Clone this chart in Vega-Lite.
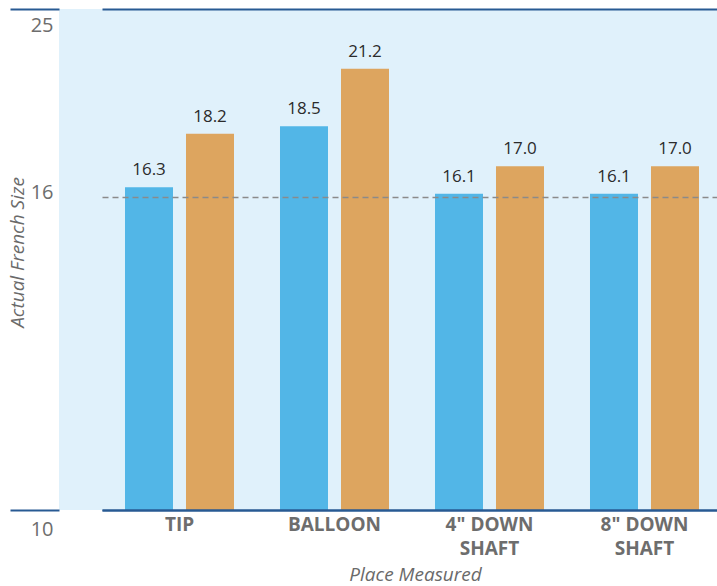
{
  "$schema": "https://vega.github.io/schema/vega-lite/v6.json",
  "width": 658,
  "height": 501,
  "autosize": "none",
  "padding": {"left": 59, "top": 9, "right": 0, "bottom": 76},
  "background": "#ffffff",
  "view": {"fill": "#e0f1fb", "stroke": null},
  "config": {"font": "Open Sans"},
  "data": {
    "values": [
      {"place": "TIP", "series": "Series 1", "value": 16.3},
      {"place": "TIP", "series": "Series 2", "value": 18.2},
      {"place": "BALLOON", "series": "Series 1", "value": 18.5},
      {"place": "BALLOON", "series": "Series 2", "value": 21.2},
      {"place": "4\" DOWN SHAFT", "series": "Series 1", "value": 16.1},
      {"place": "4\" DOWN SHAFT", "series": "Series 2", "value": 17.0},
      {"place": "8\" DOWN SHAFT", "series": "Series 1", "value": 16.1},
      {"place": "8\" DOWN SHAFT", "series": "Series 2", "value": 17.0}
    ]
  },
  "encoding": {
    "x": {
      "field": "place",
      "type": "nominal",
      "sort": null,
      "scale": {"type": "band", "range": [43, 663], "paddingInner": 0, "paddingOuter": 0},
      "axis": {
        "title": "Place Measured",
        "titleFont": "Open Sans",
        "titleFontStyle": "italic",
        "titleFontWeight": "normal",
        "titleFontSize": 19,
        "titleColor": "#6a6a6a",
        "titleX": 356,
        "titleY": 64,
        "titleAlign": "center",
        "titleBaseline": "middle",
        "labelAngle": 0,
        "labelFont": "Open Sans",
        "labelFontWeight": "bold",
        "labelFontSize": 19,
        "labelColor": "#6d6d6d",
        "labelPadding": 5,
        "labelLineHeight": 24,
        "labelExpr": "datum.label == 'TIP' || datum.label == 'BALLOON' ? datum.label : [replace(datum.label, ' SHAFT', ''), 'SHAFT']",
        "ticks": false,
        "domain": true,
        "domainColor": "#285a93",
        "domainWidth": 2,
        "grid": false,
        "zindex": 1
      }
    },
    "xOffset": {
      "field": "series",
      "type": "nominal",
      "scale": {"paddingInner": 0.213, "paddingOuter": 0.377}
    },
    "y": {
      "field": "value",
      "type": "quantitative",
      "scale": {"type": "pow", "exponent": -1, "domain": [10, 25], "zero": false, "nice": false},
      "axis": {
        "title": "Actual French Size",
        "titleFont": "Open Sans",
        "titleFontStyle": "italic",
        "titleFontWeight": "normal",
        "titleFontSize": 19,
        "titleColor": "#6a6a6a",
        "titleAngle": 270,
        "titleX": -42,
        "titleY": 243,
        "titleAlign": "center",
        "titleBaseline": "middle",
        "values": [10, 16, 25],
        "domain": false,
        "ticks": true,
        "tickSize": 49,
        "tickWidth": 2,
        "tickColor": {"condition": {"test": "datum.value == 16", "value": "transparent"}, "value": "#285a93"},
        "grid": true,
        "gridColor": {"condition": {"test": "datum.value == 16", "value": "#8a8a8a"}, "value": "#285a93"},
        "gridDash": {"condition": {"test": "datum.value == 16", "value": [6, 4]}, "value": []},
        "gridWidth": {"condition": {"test": "datum.value == 16", "value": 1.5}, "value": 2},
        "labelFont": "Open Sans",
        "labelFontSize": 20,
        "labelColor": "#6d6d6d",
        "labelAlign": "right",
        "labelBaseline": "middle",
        "labelPadding": -43,
        "labelOffset": {"condition": [{"test": "datum.value == 16", "value": -4}, {"test": "datum.value == 10", "value": 19}], "value": 16},
        "zindex": 1
      }
    },
    "y2": {"datum": 10}
  },
  "layer": [
    {
      "mark": {"type": "bar"},
      "encoding": {
        "color": {
          "field": "series",
          "type": "nominal",
          "scale": {"range": ["#52b6e7", "#dda55f"]},
          "legend": null
        }
      }
    },
    {
      "mark": {"type": "text", "dy": -12, "baseline": "alphabetic", "font": "Open Sans", "fontSize": 17, "fontWeight": 500, "color": "#2b2b2b"},
      "encoding": {
        "y2": null,
        "text": {"field": "value", "type": "quantitative", "format": ".1f"}
      }
    }
  ]
}
